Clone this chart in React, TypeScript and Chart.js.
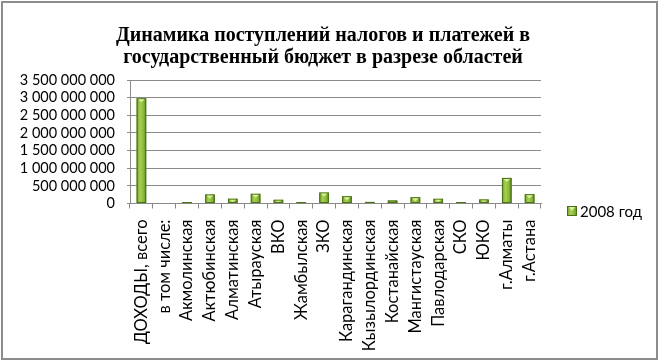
import React, { useEffect, useRef } from "react";
import { Chart, registerables } from "chart.js";

Chart.register(...registerables);

const titleLines = [
  "Динамика поступлений налогов и платежей в",
  "государственный бюджет в разрезе областей",
];

const categories = [
  "ДОХОДЫ, всего",
  "в том числе:",
  "Акмолинская",
  "Актюбинская",
  "Алматинская",
  "Атырауская",
  "ВКО",
  "Жамбылская",
  "ЗКО",
  "Карагандинская",
  "Кызылординская",
  "Костанайская",
  "Мангистауская",
  "Павлодарская",
  "СКО",
  "ЮКО",
  "г.Алматы",
  "г.Астана",
];

const seriesName = "2008 год";

const values2008 = [
  2980000000, null, 40000000, 255000000, 135000000, 275000000, 105000000,
  40000000, 310000000, 205000000, 45000000, 85000000, 178000000, 133000000,
  42000000, 113000000, 725000000, 263000000,
];

const yMax = 3500000000;
const yStep = 500000000;

function fmt(v: number): string {
  return String(Math.round(v)).replace(/\B(?=(\d{3})+(?!\d))/g, " ");
}

function barGradient(ctx: CanvasRenderingContext2D, l: number, r: number) {
  const g = ctx.createLinearGradient(l, 0, r, 0);
  g.addColorStop(0, "#6f9a2a");
  g.addColorStop(0.35, "#a6d04f");
  g.addColorStop(0.7, "#8dbb3c");
  g.addColorStop(1, "#5e8a22");
  return g;
}

const barStyle = {
  id: "barStyle",
  afterDatasetsDraw(chart: any) {
    const ctx = chart.ctx;
    const meta = chart.getDatasetMeta(0);
    meta.data.forEach((bar: any, i: number) => {
      const v = values2008[i];
      if (v == null) return;
      const { x, y, base, width } = bar.getProps(["x", "y", "base", "width"], true);
      const l = x - width / 2;
      const r = x + width / 2;
      const h = base - y;
      if (h <= 0) return;
      ctx.save();
      ctx.fillStyle = barGradient(ctx, l, r);
      ctx.fillRect(l, y, width, h);
      ctx.strokeStyle = "#4a7118";
      ctx.lineWidth = 1;
      ctx.strokeRect(l + 0.5, y + 0.5, width - 1, h - 1);
      if (h > 3) {
        ctx.fillStyle = "#d8f0a0";
        ctx.beginPath();
        ctx.moveTo(l + 1.5, y + 1);
        ctx.lineTo(r - 1.5, y + 1);
        ctx.lineTo(x, y + Math.min(4, h - 1));
        ctx.closePath();
        ctx.fill();
      }
      ctx.restore();
    });
  },
};

const sideLegend = {
  id: "sideLegend",
  afterDraw(chart: any) {
    const ctx = chart.ctx;
    const area = chart.chartArea;
    const bx = area.right + 26;
    const cy = 208;
    ctx.save();
    ctx.fillStyle = barGradient(ctx, bx, bx + 10);
    ctx.fillRect(bx, cy - 5, 10, 10);
    ctx.strokeStyle = "#4a7118";
    ctx.lineWidth = 1;
    ctx.strokeRect(bx + 0.5, cy - 4.5, 9, 9);
    ctx.fillStyle = "#d8f0a0";
    ctx.beginPath();
    ctx.moveTo(bx + 2, cy - 4);
    ctx.lineTo(bx + 8, cy - 4);
    ctx.lineTo(bx + 5, cy);
    ctx.closePath();
    ctx.fill();
    ctx.fillStyle = "#000";
    ctx.font = "15px Lato";
    ctx.textBaseline = "middle";
    ctx.textAlign = "left";
    ctx.fillText(chart.data.datasets[0].label, bx + 13, cy + 1);
    ctx.restore();
  },
};

export default function App() {
  const ref = useRef<HTMLCanvasElement | null>(null);
  useEffect(() => {
    if (!ref.current) return;
    const chart = new Chart(ref.current, {
      type: "bar",
      data: {
        labels: categories,
        datasets: [
          {
            label: seriesName,
            data: values2008 as any,
            backgroundColor: "#8dbb3c",
            borderColor: "#4a7118",
            borderWidth: 1,
            barPercentage: 0.42,
            categoryPercentage: 1,
          },
        ],
      },
      options: {
        responsive: false,
        animation: false,
        layout: { padding: { left: 0, right: 13, top: 22, bottom: 0 } },
        plugins: {
          title: {
            display: true,
            text: titleLines,
            color: "#000",
            font: { family: "Liberation Serif", size: 20, weight: "bold", lineHeight: 1.1 },
            padding: { top: 0, bottom: 11 },
          },
          legend: { display: false },
          tooltip: { enabled: false },
        },
        scales: {
          x: {
            grid: { drawOnChartArea: false, drawTicks: true, tickLength: 5, color: "#8a8a8a", offset: true },
            border: { color: "#8a8a8a" },
            ticks: {
              color: "#000",
              font: { family: "Lato", size: 16.5 },
              minRotation: 90,
              maxRotation: 90,
              autoSkip: false,
              padding: 11,
            },
            afterFit: (s: any) => {
              s.height = 154.5;
            },
          },
          y: {
            min: 0,
            max: yMax,
            grid: { color: "#8a8a8a", drawTicks: true, tickLength: 3 },
            border: { color: "#8a8a8a" },
            ticks: {
              stepSize: yStep,
              autoSkip: false,
              color: "#000",
              font: { family: "Lato", size: 14.5 },
              padding: 12,
              callback: (v: any) => fmt(Number(v)),
            },
            afterFit: (s: any) => {
              s.width = 127;
            },
          },
          side: {
            type: "linear",
            position: "right",
            display: true,
            grid: { display: false },
            border: { display: false },
            ticks: { display: false },
            afterFit: (s: any) => {
              s.width = 102;
            },
          },
        },
      },
      plugins: [barStyle, sideLegend],
    });
    return () => chart.destroy();
  }, []);
  return (
    <div style={{ position: "absolute", left: 0, top: 0, width: 660, height: 361, background: "#fff" }}>
      <div
        style={{
          position: "absolute",
          left: 1,
          top: 1,
          width: 657,
          height: 359,
          boxSizing: "border-box",
          border: "2px solid #8c8c8c",
        }}
      >
        <canvas ref={ref} width={653} height={355} style={{ display: "block" }} />
      </div>
    </div>
  );
}
